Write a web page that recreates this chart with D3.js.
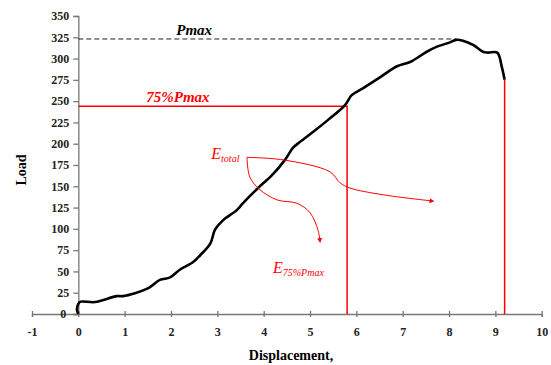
<!DOCTYPE html>
<html>
<head>
<meta charset="utf-8">
<script src="https://cdn.jsdelivr.net/npm/d3@7"></script>
<style>
  body { margin: 0; background: #fff; }
  svg text { font-family: "Liberation Serif", Tinos, "Times New Roman", "DejaVu Serif", serif !important; }
</style>
</head>
<body>
<div id="chart"></div>
<script>
// load-displacement curve
var displacement = [0, -0.03, 0, 0.05, 0.36, 0.83, 0.96, 1.5, 1.76, 1.98, 2.19, 2.48, 2.63, 2.85, 2.95, 3.12, 3.42, 3.55, 3.88, 4.18, 4.46, 4.63, 4.78, 5.07, 5.39, 5.75, 5.9, 6.14, 6.51, 6.88, 7.16, 7.52, 7.74, 8.02, 8.15, 8.3, 8.52, 8.73, 8.84, 9.04, 9.14, 9.2];
var load = [0, 5, 12, 14.5, 14, 21, 21, 30, 40, 43, 52, 61, 69, 83, 99, 110, 122, 130, 148, 163, 181, 195, 202, 214, 228, 245, 257, 265, 278, 291, 296, 308, 314, 319, 322, 321, 316, 308, 307, 307, 290, 275];

var xTicks = [-1, 0, 1, 2, 3, 4, 5, 6, 7, 8, 9, 10];
var yTicks = [0, 25, 50, 75, 100, 125, 150, 175, 200, 225, 250, 275, 300, 325, 350];

var pmax = 323, pmaxAt = 8.15;
var p75 = 244, p75At = 5.8;
var endAt = 9.2, endLoad = 275;

// annotation arrows (displacement, load)
var arrowTotal = [[3.64, 184], [4.42, 181], [5.43, 167], [5.65, 154], [5.86, 148], [6.58, 140], [7.6, 133]];
var arrow75 = [[3.64, 184], [3.7, 161], [3.92, 146], [4.29, 134], [4.72, 130], [5.0, 119], [5.17, 99], [5.21, 88]];

var width = 551, height = 365;
var svg = d3.select("#chart").append("svg")
    .attr("width", width)
    .attr("height", height);

var x = d3.scaleLinear().domain([-1, 10]).range([32, 541.7]);
var y = d3.scaleLinear().domain([0, 350]).range([314, 16]);

svg.append("defs").append("marker")
    .attr("id", "arr")
    .attr("viewBox", "0 0 10 10")
    .attr("refX", 2).attr("refY", 5)
    .attr("markerWidth", 5).attr("markerHeight", 5)
    .attr("orient", "auto")
    .append("path")
    .attr("d", "M0,0 L10,5 L0,10 z")
    .attr("fill", "#ff0000");

// X axis along load = 0
var xAxis = svg.append("g")
    .attr("transform", "translate(0," + y(0) + ")")
    .call(d3.axisBottom(x).tickValues(xTicks).tickFormat(function (d) { return String(d); }).tickSize(3).tickPadding(10));
xAxis.attr("font-family", null);
xAxis.select(".domain").attr("stroke", "#777").attr("stroke-width", 1.3);
xAxis.selectAll(".tick line").attr("stroke", "#777").attr("y1", -3).attr("stroke-width", 1.3);
xAxis.selectAll(".tick text")
    .attr("font-size", 12).attr("font-weight", "bold").attr("fill", "#222");

// Y axis at displacement = 0
var yAxis = svg.append("g")
    .attr("transform", "translate(" + x(0) + ",0)")
    .call(d3.axisLeft(y).tickValues(yTicks).tickSize(5).tickPadding(4));
yAxis.attr("font-family", null);
yAxis.select(".domain").attr("stroke", "#777").attr("stroke-width", 1.3);
yAxis.selectAll(".tick line").attr("stroke", "#777").attr("stroke-width", 1.3);
yAxis.selectAll(".tick text")
    .attr("font-size", 12).attr("font-weight", "bold").attr("fill", "#222");
yAxis.selectAll(".tick text").filter(function (d) { return d === 0; }).attr("x", -12);

// axis titles
svg.append("text")
    .attr("transform", "translate(26," + (y(175) + 5) + ") rotate(-90)")
    .attr("text-anchor", "middle")
    .attr("font-size", 14).attr("font-weight", "bold")
    .text("Load");
svg.append("text")
    .attr("x", 291).attr("y", 360)
    .attr("text-anchor", "middle")
    .attr("font-size", 14).attr("font-weight", "bold")
    .text("Displacement,");

// Pmax dashed line
svg.append("line")
    .attr("x1", x(0)).attr("x2", x(pmaxAt))
    .attr("y1", y(pmax)).attr("y2", y(pmax))
    .attr("stroke", "#222").attr("stroke-width", 1).attr("stroke-dasharray", "5,3");
svg.append("text")
    .attr("x", x(2.5)).attr("y", y(pmax) - 4)
    .attr("text-anchor", "middle")
    .attr("font-size", 15).attr("font-weight", "bold").attr("font-style", "italic")
    .text("Pmax");

// 75% Pmax lines
svg.append("path")
    .attr("d", "M" + x(0) + "," + y(p75) + "H" + x(p75At) + "V" + y(0))
    .attr("fill", "none").attr("stroke", "#ff0000").attr("stroke-width", 1.5);
svg.append("text")
    .attr("x", x(2.15)).attr("y", y(p75) - 4)
    .attr("text-anchor", "middle").attr("fill", "#ff0000")
    .attr("font-size", 15).attr("font-weight", "bold").attr("font-style", "italic")
    .text("75%Pmax");
svg.append("line")
    .attr("x1", x(endAt)).attr("x2", x(endAt))
    .attr("y1", y(endLoad)).attr("y2", y(0))
    .attr("stroke", "#ff0000").attr("stroke-width", 1.5);

// curve
var pts = displacement.map(function (d, i) { return [d, load[i]]; });
var line = d3.line()
    .x(function (d) { return x(d[0]); })
    .y(function (d) { return y(d[1]); })
    .curve(d3.curveCatmullRom);
svg.append("path")
    .datum(pts)
    .attr("d", line)
    .attr("fill", "none").attr("stroke", "#000").attr("stroke-width", 2.6)
    .attr("stroke-linejoin", "round");

// annotation arrows
[arrowTotal, arrow75].forEach(function (a) {
    svg.append("path")
        .datum(a)
        .attr("d", line)
        .attr("fill", "none").attr("stroke", "#ff0000").attr("stroke-width", 1)
        .attr("marker-end", "url(#arr)");
});

var eTot = svg.append("text")
    .attr("x", x(2.87)).attr("y", y(184) + 2)
    .attr("fill", "#ff0000").attr("font-style", "italic").attr("font-size", 16);
eTot.append("tspan").text("E");
eTot.append("tspan").attr("font-size", 10).attr("dy", 3).text("total");

var e75 = svg.append("text")
    .attr("x", x(4.2)).attr("y", y(48))
    .attr("fill", "#ff0000").attr("font-style", "italic").attr("font-size", 16);
e75.append("tspan").text("E");
e75.append("tspan").attr("font-size", 10).attr("dy", 3).text("75%Pmax");
</script>
</body>
</html>
